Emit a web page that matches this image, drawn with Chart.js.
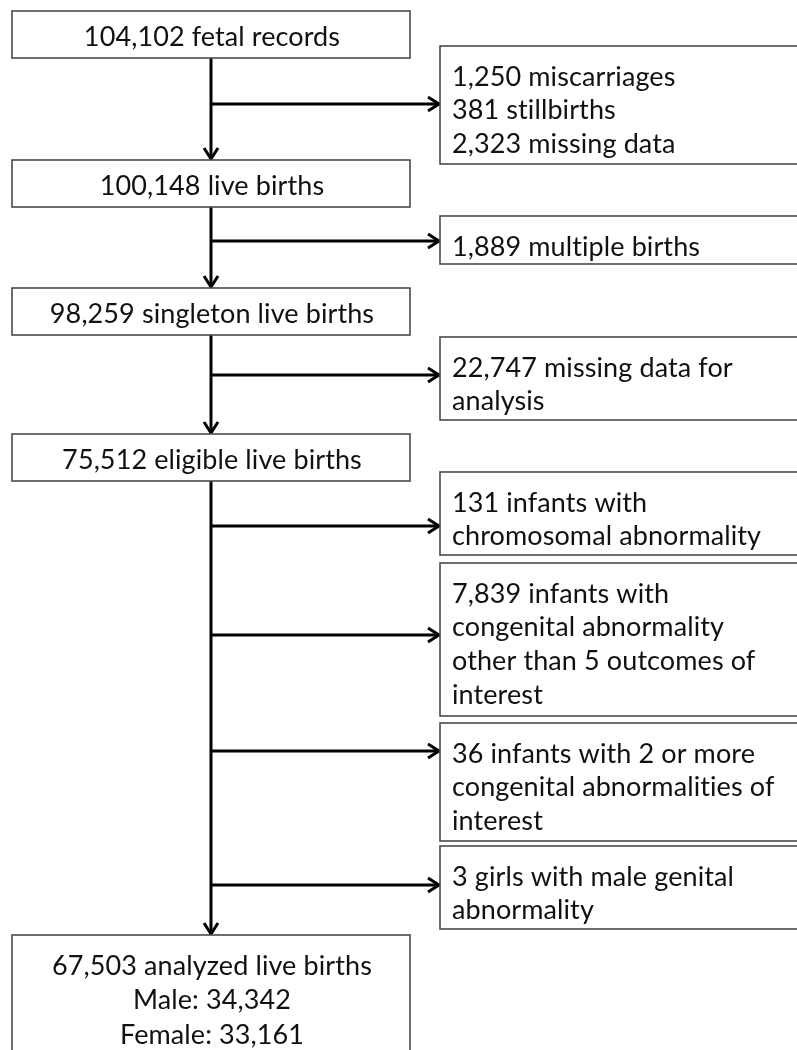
<!DOCTYPE html>
<html>
<head>
<meta charset="utf-8">
<script src="https://cdn.jsdelivr.net/npm/chart.js@4"></script>
<style>
  html, body { margin: 0; padding: 0; background: #fff; }
  #wrap { width: 797px; height: 1050px; position: relative; }
</style>
</head>
<body>
<div id="wrap"><canvas id="flow"></canvas></div>
<script>
// Data: counts at each step of the cohort selection
const stepCounts = [104102, 100148, 98259, 75512, 67503];
const stepLabels = ['fetal records', 'live births', 'singleton live births', 'eligible live births', 'analyzed live births'];
const sexLabels = ['Male', 'Female'];
const sexCounts = [34342, 33161];

// Exclusions (text lines as written in each box)
const exclusionLines = [
    ['1,250 miscarriages', '381 stillbirths', '2,323 missing data'],
    ['1,889 multiple births'],
    ['22,747 missing data for', 'analysis'],
    ['131 infants with', 'chromosomal abnormality'],
    ['7,839 infants with', 'congenital abnormality', 'other than 5 outcomes of', 'interest'],
    ['36 infants with 2 or more', 'congenital abnormalities of', 'interest'],
    ['3 girls with male genital', 'abnormality']
];

// Layout (in chart units, same as pixels)
const mainX = [12, 410];
const mainTop = [11, 160, 288, 434, 935];
const mainH = 47;
const sideX = [440, 812];
const sideTop = [46, 216, 337, 472, 563, 723, 846];
const branchY = [104, 241, 375, 526, 635, 751, 885];
const stemX = 211;
const textShift = 3; // Lato sits a bit high with 'middle' baseline

const fmt = n => n.toLocaleString('en-US');
const FONT = '27px Lato, "Open Sans", sans-serif';

const flowPlugin = {
    id: 'flow',
    afterDraw(chart) {
        const ctx = chart.ctx;
        const xs = chart.scales.x, ys = chart.scales.y;
        const px = v => xs.getPixelForValue(v);
        const py = v => ys.getPixelForValue(v);

        function box(x0, y0, x1, y1) {
            ctx.save();
            ctx.strokeStyle = '#4a4a4a';
            ctx.lineWidth = 1.6;
            ctx.fillStyle = '#fff';
            ctx.fillRect(px(x0), py(y0), px(x1) - px(x0), py(y1) - py(y0));
            ctx.strokeRect(px(x0), py(y0), px(x1) - px(x0), py(y1) - py(y0));
            ctx.restore();
        }
        function line(x0, y0, x1, y1) {
            ctx.beginPath();
            ctx.moveTo(px(x0), py(y0));
            ctx.lineTo(px(x1), py(y1));
            ctx.stroke();
        }
        function headDown(x, y) {
            ctx.beginPath();
            ctx.moveTo(px(x - 7), py(y - 11));
            ctx.lineTo(px(x), py(y));
            ctx.lineTo(px(x + 7), py(y - 11));
            ctx.stroke();
        }
        function headRight(x, y) {
            ctx.beginPath();
            ctx.moveTo(px(x - 11), py(y - 7));
            ctx.lineTo(px(x), py(y));
            ctx.lineTo(px(x - 11), py(y + 7));
            ctx.stroke();
        }

        // connectors
        ctx.save();
        ctx.strokeStyle = '#000';
        ctx.lineWidth = 3;
        for (let i = 0; i < mainTop.length - 1; i++) {
            const from = mainTop[i] + mainH;
            const to = mainTop[i + 1];
            line(stemX, from, stemX, to - 1);
            headDown(stemX, to - 1);
        }
        exclusionLines.forEach((_, j) => {
            line(stemX, branchY[j], sideX[0] - 1, branchY[j]);
            headRight(sideX[0] - 1, branchY[j]);
        });
        ctx.restore();

        // main boxes
        ctx.save();
        ctx.font = FONT;
        ctx.letterSpacing = '0.1px'; // keeps "ti" from joining
        ctx.fillStyle = '#111';
        ctx.textBaseline = 'middle';
        stepCounts.forEach((c, i) => {
            const last = i === stepCounts.length - 1;
            const bottom = last ? 1070 : mainTop[i] + mainH;
            box(mainX[0], mainTop[i], mainX[1], bottom);
            ctx.textAlign = 'center';
            const lines = [fmt(c) + ' ' + stepLabels[i]];
            if (last) sexLabels.forEach((s, k) => lines.push(s + ': ' + fmt(sexCounts[k])));
            const first = (last ? mainTop[i] + 28 : mainTop[i] + mainH / 2) + textShift;
            lines.forEach((t, k) => ctx.fillText(t, px(stemX + 1), py(first + k * 34.5)));
        });

        // exclusion boxes
        ctx.textAlign = 'left';
        exclusionLines.forEach((lines, j) => {
            const top = sideTop[j];
            const h = 13 + 35 * lines.length;
            box(sideX[0], top, sideX[1], top + h);
            lines.forEach((t, k) => ctx.fillText(t, px(sideX[0] + 12), py(top + 28 + textShift + k * 33.7)));
        });
        ctx.restore();
    }
};

new Chart(document.getElementById('flow'), {
    type: 'scatter',
    data: {
        datasets: [{
            label: 'steps',
            data: stepCounts.map((c, i) => ({ x: stemX, y: mainTop[i] + mainH / 2 })),
            pointRadius: 0
        }]
    },
    options: {
        responsive: true,
        maintainAspectRatio: false,
        animation: false,
        layout: { padding: 0 },
        scales: {
            x: { type: 'linear', min: 0, max: 797, display: false },
            y: { type: 'linear', min: 0, max: 1050, reverse: true, display: false }
        },
        plugins: {
            legend: { display: false },
            tooltip: { enabled: false }
        }
    },
    plugins: [flowPlugin]
});
</script>
</body>
</html>
